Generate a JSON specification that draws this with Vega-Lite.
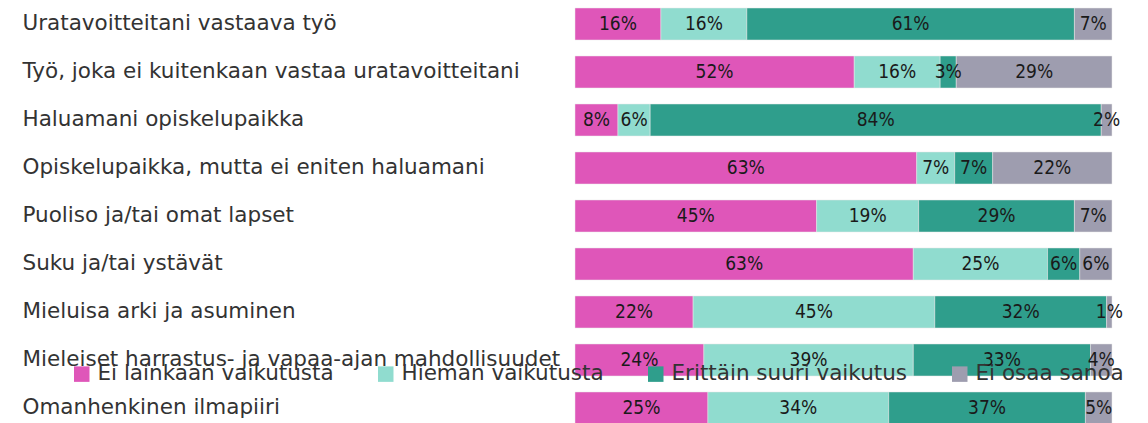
{
  "$schema": "https://vega.github.io/schema/vega-lite/v6.json",
  "width": 537,
  "height": 432,
  "autosize": {"type": "none"},
  "padding": {"left": 575, "top": 0, "right": 36, "bottom": 0},
  "background": "white",
  "config": {"view": {"stroke": null}},
  "data": {
    "values": [
      {"c": "Uratavoitteitani vastaava työ", "r": "Ei lainkaan vaikutusta", "k": 1, "v": 16},
      {"c": "Uratavoitteitani vastaava työ", "r": "Hieman vaikutusta", "k": 2, "v": 16},
      {"c": "Uratavoitteitani vastaava työ", "r": "Erittäin suuri vaikutus", "k": 3, "v": 61},
      {"c": "Uratavoitteitani vastaava työ", "r": "Ei osaa sanoa", "k": 4, "v": 7},
      {"c": "Työ, joka ei kuitenkaan vastaa uratavoitteitani", "r": "Ei lainkaan vaikutusta", "k": 1, "v": 52},
      {"c": "Työ, joka ei kuitenkaan vastaa uratavoitteitani", "r": "Hieman vaikutusta", "k": 2, "v": 16},
      {"c": "Työ, joka ei kuitenkaan vastaa uratavoitteitani", "r": "Erittäin suuri vaikutus", "k": 3, "v": 3},
      {"c": "Työ, joka ei kuitenkaan vastaa uratavoitteitani", "r": "Ei osaa sanoa", "k": 4, "v": 29},
      {"c": "Haluamani opiskelupaikka", "r": "Ei lainkaan vaikutusta", "k": 1, "v": 8},
      {"c": "Haluamani opiskelupaikka", "r": "Hieman vaikutusta", "k": 2, "v": 6},
      {"c": "Haluamani opiskelupaikka", "r": "Erittäin suuri vaikutus", "k": 3, "v": 84},
      {"c": "Haluamani opiskelupaikka", "r": "Ei osaa sanoa", "k": 4, "v": 2},
      {"c": "Opiskelupaikka, mutta ei eniten haluamani", "r": "Ei lainkaan vaikutusta", "k": 1, "v": 63},
      {"c": "Opiskelupaikka, mutta ei eniten haluamani", "r": "Hieman vaikutusta", "k": 2, "v": 7},
      {"c": "Opiskelupaikka, mutta ei eniten haluamani", "r": "Erittäin suuri vaikutus", "k": 3, "v": 7},
      {"c": "Opiskelupaikka, mutta ei eniten haluamani", "r": "Ei osaa sanoa", "k": 4, "v": 22},
      {"c": "Puoliso ja/tai omat lapset", "r": "Ei lainkaan vaikutusta", "k": 1, "v": 45},
      {"c": "Puoliso ja/tai omat lapset", "r": "Hieman vaikutusta", "k": 2, "v": 19},
      {"c": "Puoliso ja/tai omat lapset", "r": "Erittäin suuri vaikutus", "k": 3, "v": 29},
      {"c": "Puoliso ja/tai omat lapset", "r": "Ei osaa sanoa", "k": 4, "v": 7},
      {"c": "Suku ja/tai ystävät", "r": "Ei lainkaan vaikutusta", "k": 1, "v": 63},
      {"c": "Suku ja/tai ystävät", "r": "Hieman vaikutusta", "k": 2, "v": 25},
      {"c": "Suku ja/tai ystävät", "r": "Erittäin suuri vaikutus", "k": 3, "v": 6},
      {"c": "Suku ja/tai ystävät", "r": "Ei osaa sanoa", "k": 4, "v": 6},
      {"c": "Mieluisa arki ja asuminen", "r": "Ei lainkaan vaikutusta", "k": 1, "v": 22},
      {"c": "Mieluisa arki ja asuminen", "r": "Hieman vaikutusta", "k": 2, "v": 45},
      {"c": "Mieluisa arki ja asuminen", "r": "Erittäin suuri vaikutus", "k": 3, "v": 32},
      {"c": "Mieluisa arki ja asuminen", "r": "Ei osaa sanoa", "k": 4, "v": 1},
      {"c": "Mieleiset harrastus- ja vapaa-ajan mahdollisuudet", "r": "Ei lainkaan vaikutusta", "k": 1, "v": 24},
      {"c": "Mieleiset harrastus- ja vapaa-ajan mahdollisuudet", "r": "Hieman vaikutusta", "k": 2, "v": 39},
      {"c": "Mieleiset harrastus- ja vapaa-ajan mahdollisuudet", "r": "Erittäin suuri vaikutus", "k": 3, "v": 33},
      {"c": "Mieleiset harrastus- ja vapaa-ajan mahdollisuudet", "r": "Ei osaa sanoa", "k": 4, "v": 4},
      {"c": "Omanhenkinen ilmapiiri", "r": "Ei lainkaan vaikutusta", "k": 1, "v": 25},
      {"c": "Omanhenkinen ilmapiiri", "r": "Hieman vaikutusta", "k": 2, "v": 34},
      {"c": "Omanhenkinen ilmapiiri", "r": "Erittäin suuri vaikutus", "k": 3, "v": 37},
      {"c": "Omanhenkinen ilmapiiri", "r": "Ei osaa sanoa", "k": 4, "v": 5}
    ]
  },
  "encoding": {
    "y": {
      "field": "c",
      "type": "nominal",
      "sort": null,
      "title": null,
      "scale": {"paddingInner": 0.3333, "paddingOuter": 0.1667},
      "axis": {
        "domain": false,
        "ticks": false,
        "labelAlign": "left",
        "labelPadding": 553,
        "labelFont": "DejaVu Sans",
        "labelFontSize": 21.5,
        "labelColor": "#333333",
        "labelLimit": 600
      }
    },
    "x": {
      "field": "v",
      "type": "quantitative",
      "stack": "normalize",
      "axis": null,
      "scale": {"domain": [0, 1], "nice": false}
    },
    "order": {"field": "k", "type": "quantitative", "sort": "ascending"}
  },
  "layer": [
    {
      "mark": {"type": "bar", "stroke": "#e8e8e8", "strokeWidth": 0.5},
      "encoding": {
        "color": {
          "field": "r",
          "type": "nominal",
          "sort": ["Ei lainkaan vaikutusta", "Hieman vaikutusta", "Erittäin suuri vaikutus", "Ei osaa sanoa"],
          "scale": {
            "domain": ["Ei lainkaan vaikutusta", "Hieman vaikutusta", "Erittäin suuri vaikutus", "Ei osaa sanoa"],
            "range": ["#df56b9", "#90dccf", "#2f9e8c", "#9e9daf"]
          },
          "legend": {
            "title": null,
            "orient": "none",
            "direction": "horizontal",
            "legendX": -504,
            "legendY": 363,
            "symbolType": "square",
            "symbolSize": 240,
            "symbolStrokeWidth": 0,
            "labelFont": "DejaVu Sans",
            "labelFontSize": 21.5,
            "labelColor": "#333333",
            "labelOffset": 5,
            "columnPadding": 41,
            "labelLimit": 400
          }
        }
      }
    },
    {
      "mark": {
        "type": "text",
        "font": "DejaVu Sans Condensed",
        "fontSize": 19,
        "color": "#1a1a1a",
        "baseline": "middle",
        "text": {"expr": "datum.v + '%'"}
      },
      "encoding": {
        "x": {"field": "v", "type": "quantitative", "stack": "normalize", "bandPosition": 0.5},
        "detail": {"field": "r", "type": "nominal"}
      }
    }
  ]
}
